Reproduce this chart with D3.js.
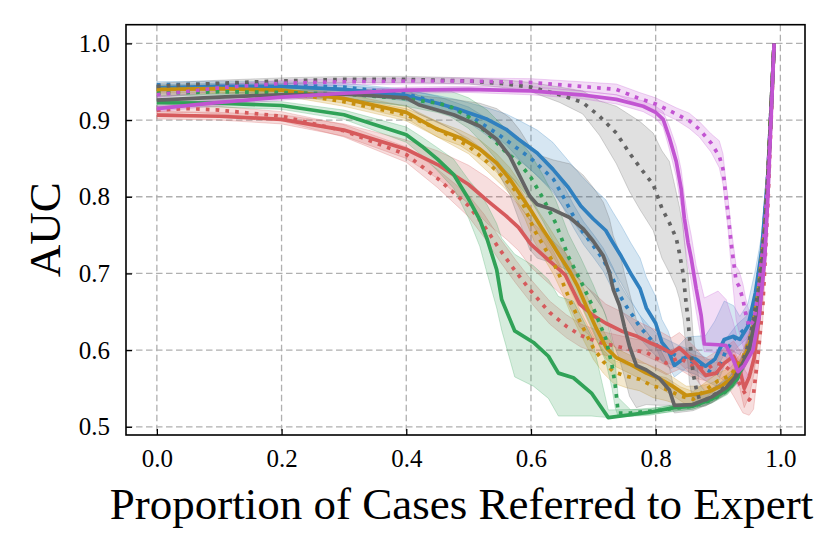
<!DOCTYPE html>
<html><head><meta charset="utf-8">
<script src="https://cdn.jsdelivr.net/npm/d3@7"></script>
<style>body{margin:0;background:#fff}svg{display:block}text{font-family:"Liberation Serif","Times New Roman",serif;fill:#000}</style>
</head><body>
<script>
// rows: [proportion referred, mean AUC, band below, band above]
const blueSolid=[[0,.942,.004,.004],[0.1,.944,.004,.004],[0.2,.944,.004,.004],[0.3,.940,.005,.005],[0.4,.932,.007,.007],[0.45,.922,.01,.01],[0.48,.915,.012,.012],[0.53,.901,.015,.015],[0.56,.888,.02,.02],[0.58,.875,.025,.025],[0.61,.857,.03,.03],[0.635,.836,.03,.035],[0.66,.812,.035,.035],[0.68,.788,.035,.04],[0.70,.771,.035,.04],[0.72,.756,.035,.04],[0.73,.742,.035,.04],[0.745,.722,.035,.04],[0.76,.70,.035,.04],[0.775,.68,.035,.04],[0.785,.655,.03,.04],[0.80,.635,.03,.035],[0.81,.61,.025,.03],[0.82,.60,.02,.025],[0.83,.58,.015,.02],[0.85,.592,.015,.025],[0.865,.588,.015,.03],[0.88,.579,.015,.04],[0.895,.588,.015,.05],[0.91,.614,.02,.05],[0.925,.618,.02,.04],[0.935,.614,.02,.03],[0.948,.631,.02,.03],[0.96,.675,.02,.03],[0.97,.73,.02,.02],[0.98,.83,.01,.01],[0.99,1.0,0,0]];
const blueDotted=[[0,.946,.004,.004],[0.1,.947,.004,.004],[0.2,.946,.004,.004],[0.3,.943,.005,.005],[0.4,.934,.006,.006],[0.45,.923,.008,.008],[0.5,.907,.01,.01],[0.55,.88,.012,.012],[0.6,.85,.015,.015],[0.636,.823,.015,.015],[0.654,.797,.015,.015],[0.668,.775,.015,.015],[0.684,.753,.015,.015],[0.70,.736,.015,.015],[0.716,.718,.015,.015],[0.732,.692,.015,.015],[0.742,.672,.015,.015],[0.753,.657,.015,.015],[0.764,.644,.015,.015],[0.774,.631,.015,.015],[0.79,.616,.015,.015],[0.806,.603,.015,.015],[0.82,.598,.015,.015],[0.84,.59,.015,.015],[0.865,.583,.015,.015],[0.88,.575,.015,.015],[0.897,.568,.015,.015],[0.913,.60,.015,.015],[0.93,.618,.015,.015],[0.945,.629,.015,.015],[0.956,.645,.015,.015],[0.97,.72,.015,.015],[0.98,.83,.01,.01],[0.99,1.0,0,0]];
const redSolid=[[0,.9065,.005,.005],[0.1,.905,.005,.005],[0.2,.901,.006,.006],[0.3,.887,.008,.008],[0.4,.862,.012,.012],[0.45,.842,.018,.018],[0.5,.816,.025,.025],[0.53,.795,.03,.03],[0.56,.775,.03,.03],[0.58,.76,.03,.03],[0.60,.738,.03,.03],[0.63,.716,.03,.03],[0.655,.698,.03,.03],[0.678,.66,.03,.03],[0.70,.645,.03,.03],[0.72,.635,.025,.025],[0.745,.625,.025,.025],[0.77,.618,.02,.02],[0.79,.61,.02,.02],[0.81,.603,.02,.02],[0.825,.596,.02,.02],[0.838,.603,.02,.02],[0.85,.594,.02,.02],[0.865,.582,.02,.02],[0.88,.567,.02,.02],[0.897,.57,.02,.02],[0.91,.583,.02,.02],[0.925,.592,.02,.02],[0.935,.575,.025,.025],[0.942,.55,.025,.025],[0.95,.565,.025,.025],[0.958,.59,.02,.02],[0.966,.644,.02,.02],[0.975,.73,.02,.02],[0.98,.82,.01,.01],[0.99,1.0,0,0]];
const redDotted=[[0,.913,.005,.005],[0.05,.915,.005,.005],[0.1,.913,.005,.005],[0.2,.905,.006,.006],[0.3,.886,.008,.008],[0.4,.855,.01,.01],[0.45,.824,.012,.012],[0.5,.788,.014,.014],[0.525,.762,.015,.015],[0.55,.731,.015,.015],[0.575,.703,.015,.015],[0.60,.677,.015,.015],[0.63,.649,.015,.015],[0.657,.631,.015,.015],[0.68,.619,.015,.015],[0.71,.61,.015,.015],[0.737,.605,.015,.015],[0.764,.600,.015,.015],[0.785,.597,.015,.015],[0.80,.59,.015,.015],[0.817,.583,.015,.015],[0.838,.59,.015,.015],[0.86,.579,.015,.015],[0.881,.575,.015,.015],[0.897,.583,.015,.015],[0.91,.58,.02,.02],[0.925,.57,.03,.03],[0.94,.548,.03,.03],[0.95,.535,.02,.03],[0.957,.543,.02,.03],[0.965,.60,.02,.03],[0.972,.66,.02,.02],[0.98,.79,.01,.01],[0.99,1.0,0,0]];
const goldSolid=[[0,.94,.005,.005],[0.1,.941,.005,.005],[0.2,.939,.005,.005],[0.3,.928,.006,.006],[0.4,.910,.008,.008],[0.45,.888,.01,.01],[0.486,.877,.01,.01],[0.518,.862,.012,.012],[0.545,.844,.012,.012],[0.566,.823,.015,.015],[0.585,.80,.015,.015],[0.60,.782,.015,.015],[0.617,.76,.015,.015],[0.63,.744,.015,.015],[0.646,.723,.015,.015],[0.662,.703,.015,.015],[0.675,.683,.015,.015],[0.69,.655,.015,.015],[0.705,.628,.015,.015],[0.721,.603,.015,.015],[0.737,.59,.012,.012],[0.76,.581,.012,.012],[0.785,.57,.012,.012],[0.806,.563,.012,.012],[0.827,.553,.012,.012],[0.849,.541,.012,.012],[0.87,.543,.01,.01],[0.886,.546,.01,.01],[0.905,.553,.01,.01],[0.925,.565,.01,.01],[0.94,.585,.01,.01],[0.955,.62,.01,.01],[0.965,.67,.01,.01],[0.975,.75,.01,.01],[0.98,.82,.01,.01],[0.99,1.0,0,0]];
const goldDotted=[[0,.937,.005,.005],[0.1,.94,.005,.005],[0.2,.937,.005,.005],[0.3,.924,.006,.006],[0.4,.907,.008,.008],[0.45,.888,.01,.01],[0.5,.866,.01,.01],[0.529,.846,.012,.012],[0.556,.825,.012,.012],[0.575,.808,.013,.013],[0.59,.786,.014,.014],[0.605,.757,.015,.015],[0.62,.736,.015,.015],[0.636,.714,.015,.015],[0.65,.69,.015,.015],[0.665,.66,.015,.015],[0.68,.635,.015,.015],[0.70,.603,.015,.015],[0.716,.585,.015,.015],[0.732,.572,.015,.015],[0.753,.566,.015,.015],[0.774,.562,.015,.015],[0.796,.553,.015,.015],[0.817,.549,.015,.015],[0.84,.540,.012,.012],[0.86,.536,.01,.01],[0.88,.548,.01,.01],[0.90,.56,.01,.01],[0.92,.567,.01,.01],[0.94,.59,.01,.01],[0.955,.625,.01,.01],[0.965,.68,.01,.01],[0.975,.76,.01,.01],[0.98,.83,.01,.01],[0.99,1.0,0,0]];
const greenSolid=[[0,.9226,.005,.005],[0.1,.922,.005,.005],[0.2,.919,.005,.005],[0.3,.907,.006,.006],[0.4,.881,.01,.01],[0.425,.866,.012,.012],[0.45,.849,.015,.015],[0.476,.829,.018,.02],[0.50,.797,.025,.025],[0.518,.77,.035,.035],[0.53,.744,.045,.045],[0.545,.705,.05,.06],[0.553,.666,.04,.08],[0.574,.625,.06,.1],[0.604,.61,.057,.1],[0.628,.592,.055,.1],[0.644,.57,.056,.1],[0.668,.564,.05,.1],[0.697,.544,.03,.074],[0.724,.512,0,.01],[0.79,.519,.004,.004],[0.83,.525,.004,.004],[0.86,.527,.004,.004],[0.89,.536,.004,.004],[0.915,.548,.005,.005],[0.93,.562,.005,.005],[0.95,.60,.01,.01],[0.965,.66,.01,.01],[0.975,.74,.01,.01],[0.98,.82,.01,.01],[0.99,1.0,0,0]];
const greenDotted=[[0,.935,.004,.004],[0.1,.937,.004,.004],[0.2,.936,.005,.005],[0.3,.934,.006,.006],[0.4,.928,.01,.01],[0.45,.922,.012,.015],[0.47,.918,.013,.02],[0.5,.904,.015,.025],[0.53,.883,.02,.03],[0.56,.858,.025,.03],[0.58,.845,.03,.03],[0.6,.825,.03,.03],[0.62,.797,.03,.03],[0.64,.765,.03,.03],[0.66,.722,.03,.03],[0.68,.69,.03,.03],[0.70,.655,.03,.03],[0.72,.615,.03,.03],[0.73,.58,.03,.03],[0.735,.555,.03,.03],[0.74,.518,.005,.02],[0.76,.518,.004,.004],[0.8,.521,.004,.004],[0.83,.524,.004,.004],[0.86,.527,.004,.004],[0.89,.535,.004,.004],[0.915,.547,.005,.005],[0.93,.561,.005,.005],[0.95,.60,.01,.01],[0.965,.66,.01,.01],[0.975,.74,.01,.01],[0.98,.82,.01,.01],[0.99,1.0,0,0]];
const graySolid=[[0,.926,.005,.005],[0.1,.93,.005,.005],[0.2,.933,.005,.005],[0.3,.934,.006,.006],[0.4,.929,.01,.01],[0.42,.92,.012,.012],[0.476,.907,.02,.02],[0.518,.892,.03,.03],[0.545,.875,.04,.04],[0.566,.853,.05,.05],[0.582,.827,.06,.06],[0.598,.801,.07,.065],[0.61,.79,.07,.065],[0.636,.783,.07,.065],[0.662,.773,.07,.07],[0.684,.758,.07,.07],[0.70,.742,.07,.07],[0.716,.723,.07,.07],[0.726,.701,.07,.07],[0.732,.679,.07,.07],[0.742,.658,.07,.07],[0.75,.63,.065,.07],[0.758,.605,.065,.07],[0.769,.58,.055,.06],[0.785,.574,.045,.05],[0.806,.563,.035,.04],[0.822,.548,.02,.03],[0.83,.528,.01,.02],[0.86,.529,.008,.01],[0.89,.539,.008,.01],[0.913,.551,.008,.01],[0.93,.567,.01,.01],[0.95,.60,.01,.01],[0.965,.66,.01,.01],[0.975,.74,.01,.01],[0.98,.82,.01,.01],[0.99,1.0,0,0]];
const grayDotted=[[0,.944,.004,.004],[0.1,.948,.004,.004],[0.2,.951,.004,.004],[0.3,.953,.004,.004],[0.4,.953,.004,.004],[0.5,.951,.004,.004],[0.55,.948,.005,.005],[0.6,.943,.006,.006],[0.646,.933,.01,.01],[0.683,.923,.015,.015],[0.71,.905,.025,.02],[0.737,.883,.04,.035],[0.758,.857,.05,.05],[0.775,.838,.055,.06],[0.796,.816,.06,.067],[0.81,.785,.065,.075],[0.822,.766,.065,.08],[0.833,.746,.065,.06],[0.838,.727,.06,.06],[0.844,.70,.06,.06],[0.849,.66,.06,.06],[0.852,.64,.06,.06],[0.854,.618,.06,.06],[0.857,.595,.05,.06],[0.86,.57,.04,.05],[0.865,.55,.02,.04],[0.87,.536,.01,.02],[0.88,.535,.008,.01],[0.9,.545,.008,.01],[0.92,.557,.008,.01],[0.935,.575,.01,.01],[0.95,.61,.01,.01],[0.965,.68,.01,.01],[0.975,.76,.01,.01],[0.98,.83,.01,.01],[0.99,1.0,0,0]];
const purpleSolid=[[0,.915,.004,.004],[0.1,.923,.004,.004],[0.2,.930,.004,.004],[0.3,.935,.004,.004],[0.4,.939,.004,.004],[0.5,.94,.004,.004],[0.6,.938,.005,.005],[0.68,.933,.005,.005],[0.737,.927,.006,.006],[0.78,.918,.007,.007],[0.8,.91,.008,.008],[0.812,.901,.01,.01],[0.822,.877,.015,.015],[0.833,.846,.02,.02],[0.841,.81,.025,.025],[0.846,.772,.03,.03],[0.852,.74,.03,.03],[0.857,.72,.03,.03],[0.865,.68,.03,.03],[0.873,.645,.03,.04],[0.878,.608,.01,.06],[0.90,.607,.01,.07],[0.913,.606,.015,.06],[0.924,.588,.02,.05],[0.932,.572,.02,.04],[0.942,.58,.02,.04],[0.956,.60,.02,.03],[0.966,.644,.02,.03],[0.975,.72,.02,.02],[0.98,.80,.01,.01],[0.99,1.0,0,0]];
const purpleDotted=[[0,.933,.004,.004],[0.1,.942,.004,.004],[0.2,.948,.004,.004],[0.3,.95,.004,.004],[0.4,.951,.004,.004],[0.5,.951,.004,.004],[0.6,.949,.005,.005],[0.68,.944,.006,.006],[0.737,.94,.007,.007],[0.774,.928,.008,.008],[0.80,.921,.008,.008],[0.833,.908,.008,.008],[0.854,.899,.01,.01],[0.87,.888,.01,.01],[0.889,.87,.012,.012],[0.902,.853,.015,.02],[0.908,.836,.02,.02],[0.912,.805,.02,.02],[0.916,.779,.02,.02],[0.921,.74,.03,.02],[0.929,.69,.05,.02],[0.934,.683,.06,.02],[0.94,.666,.06,.02],[0.944,.649,.05,.02],[0.95,.63,.04,.02],[0.958,.64,.03,.02],[0.965,.68,.02,.02],[0.975,.76,.01,.01],[0.98,.83,.01,.01],[0.99,1.0,0,0]];

const xTicks=[0,0.2,0.4,0.6,0.8,1.0];
const yTicks=[0.5,0.6,0.7,0.8,0.9,1.0];
const xLabel="Proportion of Cases Referred to Expert";
const yLabel="AUC";

const series=[
 {data:blueSolid,color:"#3080bf",dotted:false},
 {data:blueDotted,color:"#3080bf",dotted:true},
 {data:redSolid,color:"#d65a5c",dotted:false},
 {data:redDotted,color:"#d65a5c",dotted:true},
 {data:goldSolid,color:"#c8900e",dotted:false},
 {data:goldDotted,color:"#c8900e",dotted:true},
 {data:greenSolid,color:"#30a257",dotted:false},
 {data:greenDotted,color:"#30a257",dotted:true},
 {data:graySolid,color:"#646464",dotted:false},
 {data:grayDotted,color:"#646464",dotted:true},
 {data:purpleSolid,color:"#c254d2",dotted:false},
 {data:purpleDotted,color:"#c254d2",dotted:true}
];

const W=830,H=554;
const L=126,R=805,T=24.7,B=435;
const svg=d3.select("body").append("svg").attr("width",W).attr("height",H);
svg.append("rect").attr("width",W).attr("height",H).attr("fill","#fff");
const x=d3.scaleLinear().domain([-0.0495,1.0395]).range([L,R]);
const y=d3.scaleLinear().domain([0.4893,1.0244]).range([B,T]);

svg.append("defs").append("clipPath").attr("id","clip").append("rect").attr("x",L).attr("y",T).attr("width",R-L).attr("height",B-T);

// grid
const grid=svg.append("g");
grid.selectAll("line.gx").data(xTicks).join("line").attr("x1",d=>x(d)).attr("x2",d=>x(d)).attr("y1",T).attr("y2",B)
 .attr("stroke","#b0b0b0").attr("stroke-width",1.3).attr("stroke-dasharray","6.5,3.5");
grid.selectAll("line.gy").data(yTicks).join("line").attr("y1",d=>y(d)).attr("y2",d=>y(d)).attr("x1",L).attr("x2",R)
 .attr("stroke","#b0b0b0").attr("stroke-width",1.3).attr("stroke-dasharray","6.5,3.5");

const plot=svg.append("g").attr("clip-path","url(#clip)");
const area=d3.area().x(d=>x(d[0])).y0(d=>y(d[1]-d[2])).y1(d=>y(d[1]+d[3]));
const line=d3.line().x(d=>x(d[0])).y(d=>y(d[1]));
series.forEach(s=>{
  plot.append("path").attr("d",area(s.data)).attr("fill",s.color).attr("fill-opacity",0.2)
   .attr("stroke",s.color).attr("stroke-opacity",0.25).attr("stroke-width",1);
});
series.forEach(s=>{
  plot.append("path").attr("d",line(s.data)).attr("fill","none").attr("stroke",s.color)
   .attr("stroke-width",3.7).attr("stroke-linejoin","round")
   .attr("stroke-dasharray",s.dotted?"3.7,6.1":null);
});

// axes
const xAxis=d3.axisBottom(x).tickValues(xTicks).tickFormat(d3.format(".1f")).tickSizeInner(-6).tickSizeOuter(0).tickPadding(14);
const yAxis=d3.axisLeft(y).tickValues(yTicks).tickFormat(d3.format(".1f")).tickSizeInner(-6).tickSizeOuter(0).tickPadding(16);
const gx=svg.append("g").attr("transform",`translate(0,${B})`).call(xAxis);
const gy=svg.append("g").attr("transform",`translate(${L},0)`).call(yAxis);
[gx,gy].forEach(g=>{
  g.select(".domain").remove();
  g.selectAll(".tick line").attr("stroke","#000").attr("stroke-width",1.3);
  g.selectAll(".tick text").attr("font-size",25).attr("font-family",'"Liberation Serif",serif').attr("fill","#000");
});
gx.selectAll(".tick text").attr("dy","0.71em");
// frame
svg.append("rect").attr("x",L).attr("y",T).attr("width",R-L).attr("height",B-T).attr("fill","none").attr("stroke","#000").attr("stroke-width",1.6);

svg.append("text").attr("x",(L+R)/2-4).attr("y",518.5).attr("text-anchor","middle").attr("font-size",45).text(xLabel);
svg.append("text").attr("transform",`translate(60,${(T+B)/2}) rotate(-90)`).attr("text-anchor","middle").attr("font-size",45).text(yLabel);
</script>
</body></html>
